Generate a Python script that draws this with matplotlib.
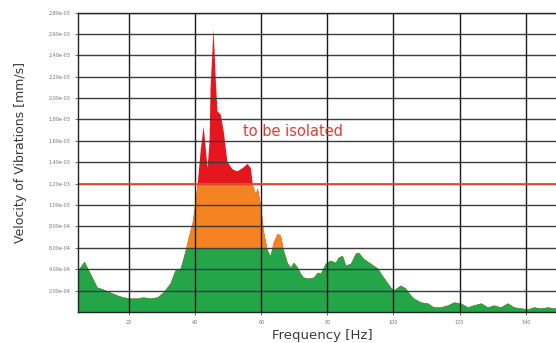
import numpy as np
import matplotlib.pyplot as plt
from matplotlib.patches import Rectangle
from matplotlib.ticker import FormatStrFormatter

# frequency [Hz] and velocity [mm/s]
FREQ = [4.5, 6.4, 8.2, 10.3, 12.1, 14.2, 16.4, 18.2, 20.3, 22.4, 24.2, 26.4, 28.5,
        30.3, 32.4, 33.9, 35.5, 37.0, 37.9, 39.1, 40.0, 40.6, 41.5, 42.4, 43.0,
        43.6, 44.2, 44.5, 45.4, 46.1, 46.6, 47.6, 48.5, 49.6, 51.1, 52.6, 54.2,
        55.7, 56.7, 57.3, 58.2, 58.8, 59.7, 60.6, 61.8, 62.7, 63.6, 64.8, 65.8,
        66.7, 67.9, 68.8, 69.7, 70.9, 71.8, 72.7, 74.2, 75.8, 77.0, 77.9, 79.4,
        80.9, 82.4, 83.3, 84.5, 85.5, 87.0, 88.5, 89.4, 90.9, 93.0, 95.2, 96.1,
        97.6, 99.1, 100.0, 102.1, 103.6, 105.2, 106.1, 108.2, 110.3, 112.1, 114.2,
        116.4, 118.2, 120.3, 122.4, 124.2, 126.4, 128.5, 130.3, 132.4, 134.5,
        136.4, 138.5, 140.6, 142.4, 144.5, 146.7, 148.5, 149.5]
VEL = [3.91, 4.74, 3.63, 2.33, 2.14, 1.86, 1.58, 1.40, 1.30, 1.30, 1.40, 1.30, 1.40,
       1.86, 2.70, 3.91, 4.09, 5.77, 6.98, 8.37, 10.4, 12.0, 15.1, 17.4, 15.5,
       13.5, 16.0, 20.9, 26.5, 21.6, 18.8, 18.5, 16.9, 14.1, 13.4, 13.2, 13.5,
       13.9, 13.5, 11.9, 11.1, 11.6, 10.1, 7.63, 5.77, 5.30, 6.51, 7.35, 7.16,
       5.77, 4.56, 4.19, 4.65, 4.19, 3.63, 3.26, 3.16, 3.26, 3.72, 3.63, 4.56,
       4.84, 4.65, 5.12, 5.30, 4.37, 4.56, 5.49, 5.58, 5.02, 4.56, 4.09, 3.63,
       2.98, 2.33, 2.05, 2.51, 2.23, 1.58, 1.30, 0.93, 0.84, 0.47, 0.47,
       0.65, 0.93, 0.84, 0.47, 0.65, 0.84, 0.47, 0.65, 0.47, 0.84,
       0.47, 0.37, 0.28, 0.47, 0.37, 0.47, 0.37, 0.37]
VEL = [v * 1e-4 for v in VEL]

LIMIT = 1.2e-3   # isolation threshold
GREEN_TOP = 6e-4
X_TICKS = [20, 40, 60, 80, 100, 120, 140]
Y_TICKS = [i * 2e-4 for i in range(15)]

fig = plt.figure(figsize=(5.56, 3.43), dpi=100)
ax = fig.add_axes([0.140, 0.0904, 0.862, 0.873])

x = np.array(FREQ)
y = np.array(VEL)
xmin, xmax = 4.5, 149.5

# layered fills, clipped to bands
for top, col in [(1.0, '#e5161d'), (LIMIT, '#f68322'), (GREEN_TOP, '#24a548')]:
    poly = ax.fill_between(x, 0, y, color=col, lw=0, zorder=1)
    clip = Rectangle((xmin, 0), xmax - xmin, top, transform=ax.transData)
    poly.set_clip_path(clip)

ax.axhline(LIMIT, color='#e84b35', lw=1.3, zorder=4)
ax.text(54.5, 1.69e-3, 'to be isolated', color='#e53a32', fontsize=10.5,
        ha='left', va='center', zorder=5)

ax.set_xlim(xmin, xmax)
ax.set_ylim(0, 2.8e-3)
ax.set_xticks(X_TICKS)
ax.set_yticks(Y_TICKS[1:])
ax.yaxis.set_major_formatter(FormatStrFormatter('%.2e'))
ax.tick_params(labelsize=3.5, labelcolor='#777777', length=2, width=0.6,
               color='#555555')
for yt in Y_TICKS[1:]:
    ax.axhline(yt, color='#3c3c3c', lw=1.0, zorder=3)
for xt in X_TICKS:
    ax.axvline(xt, color='#1a1a1a', lw=1.0, zorder=3)

for s in ax.spines.values():
    s.set_color('#222222')
    s.set_linewidth(1.0)
    s.set_zorder(6)

ax.set_xlabel('Frequency [Hz]', fontsize=9.5, color='#3a3a3a')
ax.xaxis.set_label_coords(0.51, -0.057)
ax.set_ylabel('Velocity of Vibrations [mm/s]', fontsize=9, color='#3a3a3a')
ax.yaxis.set_label_coords(-0.107, 0.533)

plt.savefig('out.png', dpi=100)
